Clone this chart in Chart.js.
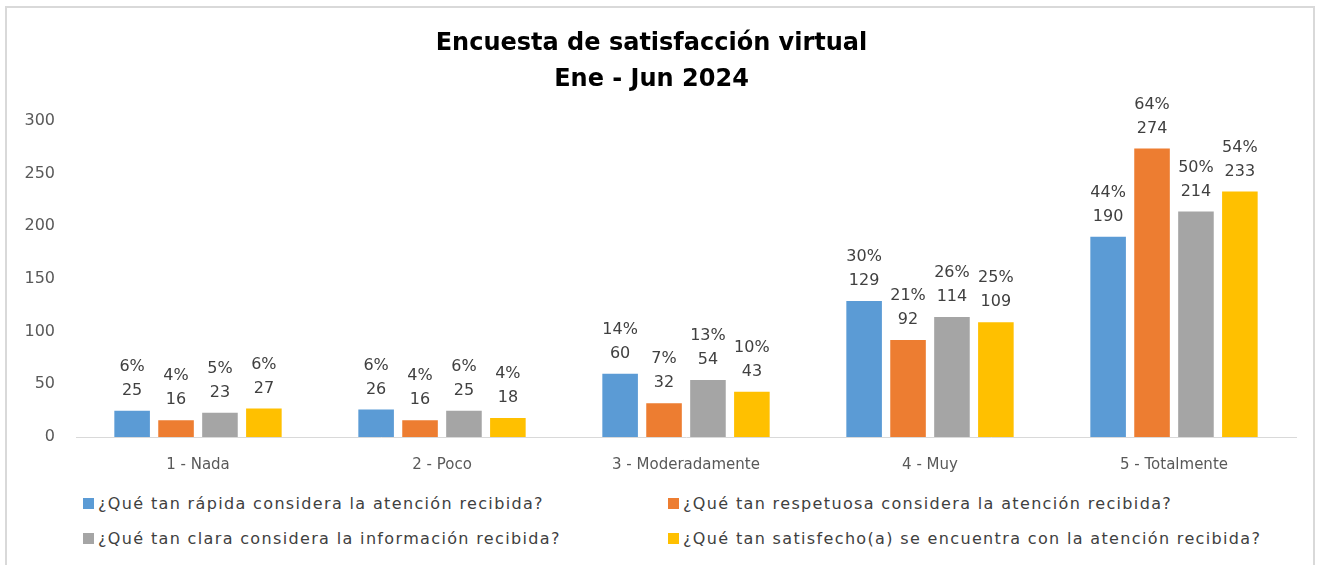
<!DOCTYPE html>
<html>
<head>
<meta charset="utf-8">
<script src="https://cdn.jsdelivr.net/npm/chart.js@4.4.1/dist/chart.umd.min.js"></script>
<style>
  html, body { margin: 0; padding: 0; background: #fff; overflow: hidden; }
  #frame {
    position: absolute; left: 5px; top: 6px; width: 1310px; height: 575px;
    border: 2px solid #d9d9d9; box-sizing: border-box;
  }
  #wrap { position: absolute; left: 0; top: 0; width: 1306px; height: 472px; }
  #legend {
    position: absolute; left: 76px; top: 486px; width: 1220px;
    display: grid; grid-template-columns: 585px 620px; row-gap: 17px;
    font-family: "DejaVu Sans", sans-serif; font-size: 16px; letter-spacing: 1.35px; color: #404040;
  }
  #legend div { display: flex; align-items: center; height: 18px; white-space: nowrap; }
  #legend span.box { width: 11px; height: 11px; margin-right: 4px; display: inline-block; }
</style>
</head>
<body>
<div id="frame">
  <div id="wrap"><canvas id="chart"></canvas></div>
  <div id="legend"></div>
</div>
<script>
const categories = ['1 - Nada', '2 - Poco', '3 - Moderadamente', '4 - Muy', '5 - Totalmente'];

const seriesNames = [
    '¿Qué tan rápida considera la atención recibida?',
    '¿Qué tan respetuosa considera la atención recibida?',
    '¿Qué tan clara considera la información recibida?',
    '¿Qué tan satisfecho(a) se encuentra con la atención recibida?'
];

const rapida = [25, 26, 60, 129, 190];
const respetuosa = [16, 16, 32, 92, 274];
const clara = [23, 25, 54, 114, 214];
const satisfecho = [27, 18, 43, 109, 233];

const rapidaPct = ['6%', '6%', '14%', '30%', '44%'];
const respetuosaPct = ['4%', '4%', '7%', '21%', '64%'];
const claraPct = ['5%', '6%', '13%', '26%', '50%'];
const satisfechoPct = ['6%', '4%', '10%', '25%', '54%'];

const yTicks = [0, 50, 100, 150, 200, 250, 300];

const colors = ['#5B9BD5', '#ED7D31', '#A5A5A5', '#FFC000'];
const values = [rapida, respetuosa, clara, satisfecho];
const pcts = [rapidaPct, respetuosaPct, claraPct, satisfechoPct];

// two-line labels (percent over count) above each bar
const barLabels = {
    id: 'barLabels',
    afterDatasetsDraw(chart) {
        const ctx = chart.ctx;
        ctx.save();
        ctx.font = '16px "DejaVu Sans", sans-serif';
        ctx.fillStyle = '#404040';
        ctx.textAlign = 'center';
        ctx.textBaseline = 'middle';
        chart.data.datasets.forEach((ds, i) => {
            chart.getDatasetMeta(i).data.forEach((bar, j) => {
                ctx.fillText(String(ds.data[j]), bar.x, bar.y - 20);
                ctx.fillText(ds.pct[j], bar.x, bar.y - 44);
            });
        });
        ctx.restore();
    }
};

const chart = new Chart(document.getElementById('chart'), {
    type: 'bar',
    data: {
        labels: categories,
        datasets: seriesNames.map((name, i) => ({
            label: name,
            data: values[i],
            pct: pcts[i],
            backgroundColor: colors[i],
            barPercentage: 0.81,
            categoryPercentage: 0.72
        }))
    },
    options: {
        responsive: true,
        maintainAspectRatio: false,
        animation: false,
        layout: { padding: { left: 0, right: 17, top: 0, bottom: 0 } },
        plugins: {
            legend: { display: false },
            tooltip: { enabled: false },
            title: {
                display: true,
                text: ['Encuesta de satisfacción virtual', 'Ene - Jun 2024'],
                color: '#000',
                font: { family: '"DejaVu Sans", sans-serif', size: 24, weight: 'bold', lineHeight: 1.5 },
                padding: { top: 18, bottom: 23 }
            }
        },
        scales: {
            x: {
                afterFit(axis) { axis.height = 43; },
                grid: { display: false, drawTicks: false },
                border: { display: true, color: '#d9d9d9', width: 1 },
                ticks: {
                    color: '#595959',
                    font: { family: '"DejaVu Sans", sans-serif', size: 15 },
                    padding: 19
                }
            },
            y: {
                min: 0,
                max: 300,
                afterBuildTicks(axis) { axis.ticks = yTicks.map(v => ({ value: v })); },
                afterFit(axis) { axis.width = 69; },
                grid: { display: false, drawTicks: false },
                border: { display: false },
                ticks: {
                    color: '#595959',
                    font: { family: '"DejaVu Sans", sans-serif', size: 16 },
                    padding: 21
                }
            }
        }
    },
    plugins: [barLabels]
});

// legend in two columns, built from the chart's datasets
const legendEl = document.getElementById('legend');
chart.data.datasets.forEach(ds => {
    const item = document.createElement('div');
    const box = document.createElement('span');
    box.className = 'box';
    box.style.background = ds.backgroundColor;
    item.appendChild(box);
    item.appendChild(document.createTextNode(ds.label));
    legendEl.appendChild(item);
});
</script>
</body>
</html>
